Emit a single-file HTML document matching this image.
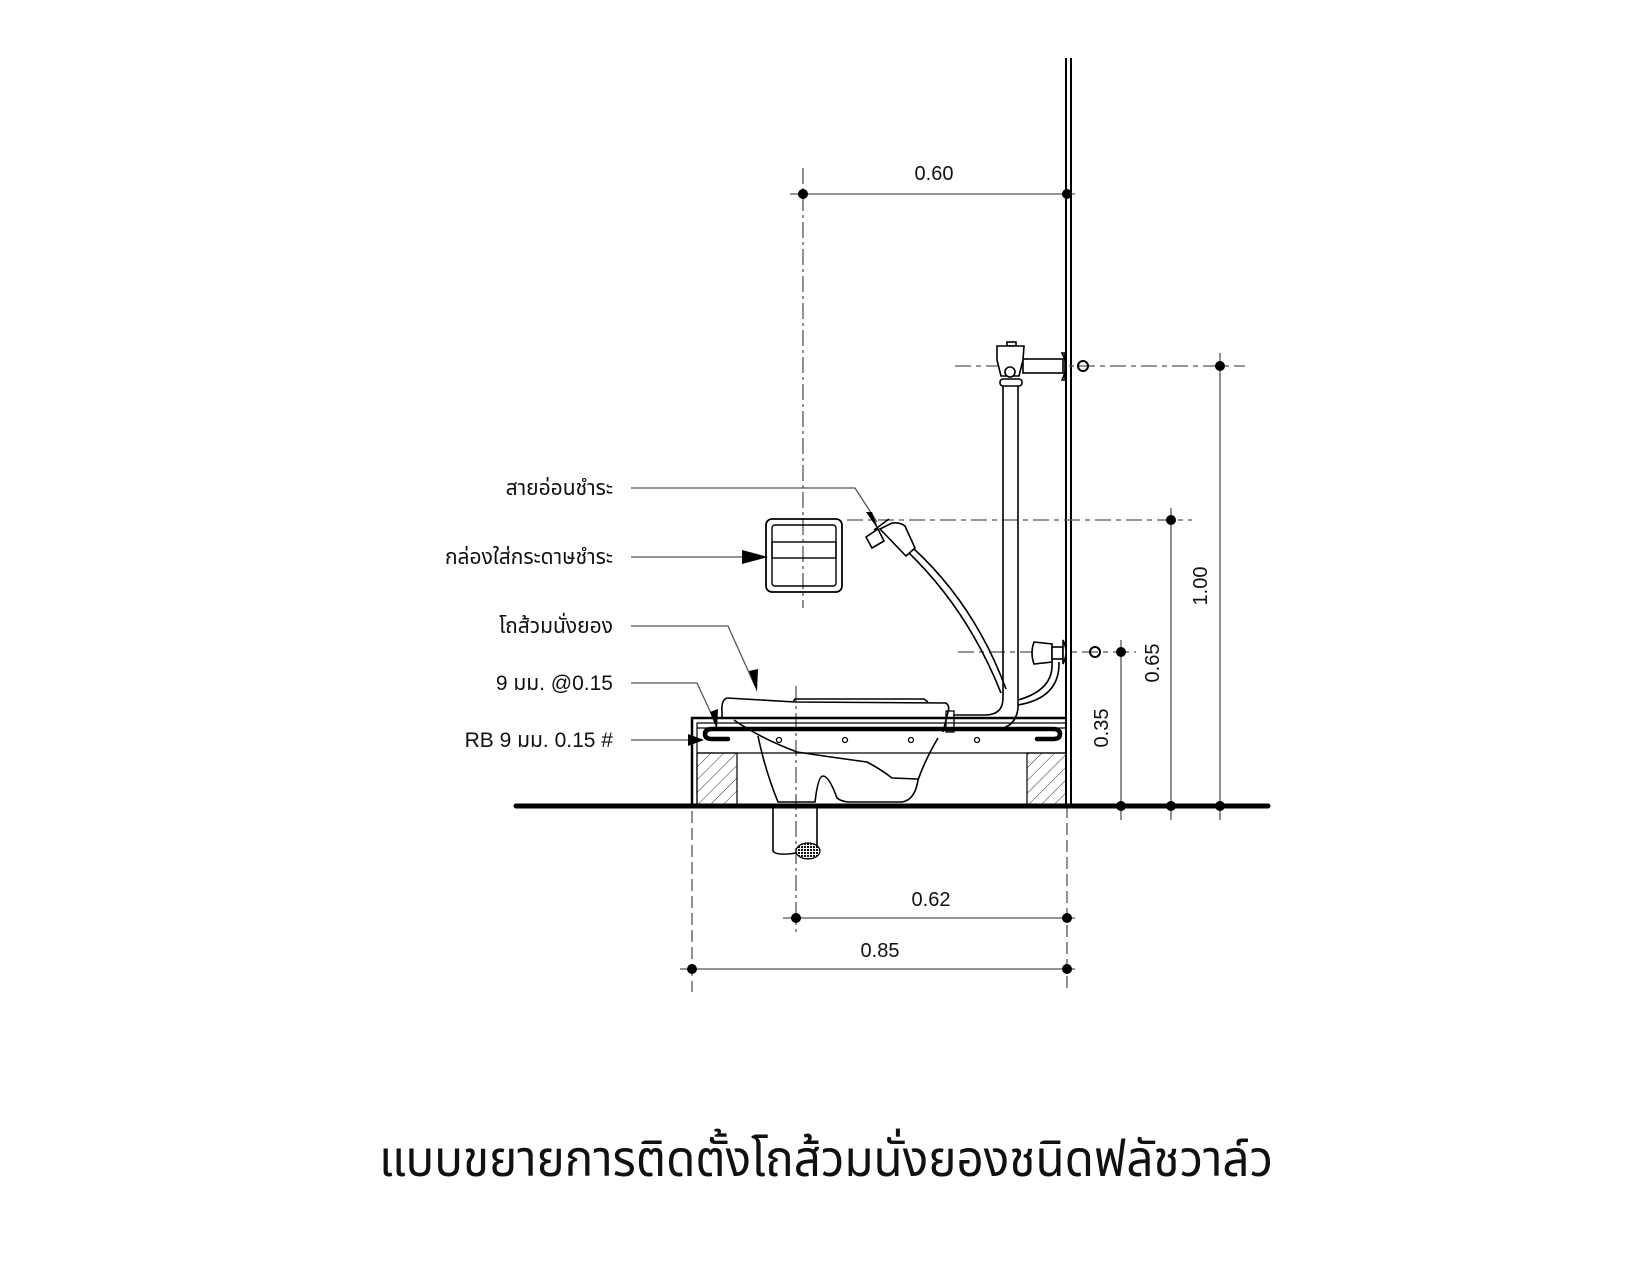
<!DOCTYPE html>
<html><head><meta charset="utf-8"><style>
html,body{margin:0;padding:0;background:#fff}
svg{display:block}
text{font-family:"Liberation Sans","Noto Sans Thai","Loma","Garuda","DejaVu Sans",sans-serif;fill:#111}
</style></head><body>
<svg width="1650" height="1275" viewBox="0 0 1650 1275" xmlns="http://www.w3.org/2000/svg">
<defs>
<pattern id="hat" width="9" height="9" patternUnits="userSpaceOnUse" patternTransform="rotate(45)">
<line x1="0" y1="0" x2="0" y2="9" stroke="#333" stroke-width="1"/>
</pattern>
<pattern id="dots" width="3" height="3" patternUnits="userSpaceOnUse">
<rect width="3" height="3" fill="#fff"/><rect width="2" height="2" fill="#111"/>
</pattern>
</defs>

<!-- wall -->
<line x1="1066" y1="58" x2="1066" y2="806" stroke="#000" stroke-width="2"/>
<line x1="1071" y1="58" x2="1071" y2="806" stroke="#000" stroke-width="2"/>

<!-- centerlines / extension lines -->
<g stroke="#555" stroke-width="1.3" fill="none">
<line x1="803" y1="168" x2="803" y2="608" stroke-dasharray="16 4 3 4"/>
<line x1="955" y1="366" x2="1245" y2="366" stroke-dasharray="16 5 5 5"/>
<line x1="847" y1="520" x2="1192" y2="520" stroke-dasharray="16 5 5 5"/>
<line x1="958" y1="652" x2="1136" y2="652" stroke-dasharray="16 5 5 5"/>
<line x1="692" y1="760" x2="692" y2="992" stroke-dasharray="12 5"/>
<line x1="1067" y1="806" x2="1067" y2="992" stroke-dasharray="12 5"/>
<line x1="796" y1="686" x2="796" y2="932" stroke-dasharray="16 4 3 4"/>
<!-- dimension lines -->
<line x1="790" y1="194" x2="1075" y2="194"/>
<line x1="783" y1="918" x2="1075" y2="918"/>
<line x1="680" y1="969" x2="1075" y2="969"/>
<line x1="1121" y1="640" x2="1121" y2="820"/>
<line x1="1171" y1="508" x2="1171" y2="820"/>
<line x1="1220" y1="353" x2="1220" y2="820"/>
<!-- leaders -->
<polyline points="631,488 855,488 877,522"/>
<line x1="631" y1="557" x2="745" y2="557"/>
<polyline points="631,626 728,626 755,686"/>
<polyline points="631,683 697,683 716,724"/>
<line x1="631" y1="740" x2="690" y2="740"/>
</g>
<g fill="#000">
<circle cx="803" cy="194" r="5"/><circle cx="1067" cy="194" r="5"/>
<circle cx="796" cy="918" r="5"/><circle cx="1067" cy="918" r="5"/>
<circle cx="692" cy="969" r="5"/><circle cx="1067" cy="969" r="5"/>
<circle cx="1121" cy="652" r="5"/><circle cx="1121" cy="806" r="5"/>
<circle cx="1171" cy="520" r="5"/><circle cx="1171" cy="806" r="5"/>
<circle cx="1220" cy="366" r="5"/><circle cx="1220" cy="806" r="5"/>
<!-- arrowheads -->
<polygon points="866,512 879,531 872,512"/>
<polygon points="742,550 768,557 742,564"/>
<polygon points="749,671 757,692 758,669"/>
<polygon points="710,712 717,730 718,709"/>
<polygon points="688,734 704,740 688,746"/>
</g>
<g fill="none" stroke="#000" stroke-width="2">
<circle cx="1083" cy="366" r="5"/>
<circle cx="1095" cy="652" r="5"/>
</g>

<!-- paper box -->
<rect x="766" y="519" width="76" height="73" rx="6" fill="none" stroke="#000" stroke-width="1.8"/>
<rect x="772" y="525" width="64" height="61" rx="3" fill="none" stroke="#000" stroke-width="1.4"/>
<rect x="772" y="542" width="64" height="16" fill="none" stroke="#000" stroke-width="1.4"/>

<!-- flush valve -->
<g fill="#fff" stroke="#000" stroke-width="1.6">
<rect x="1023" y="359" width="40" height="14"/>
<path d="M1062,353 Q1069,366 1062,380 L1065,380 L1065,353Z"/>
<rect x="1007" y="342" width="9" height="4"/>
<path d="M997,346 L1024,346 L1023,360 L1019,376 L1001,376 L997,360Z"/>
<circle cx="1010" cy="372" r="5"/>
<rect x="1000" y="379" width="22" height="7" rx="3"/>
<line x1="1003" y1="386" x2="1003" y2="698" fill="none"/>
<line x1="1018" y1="386" x2="1018" y2="708" fill="none"/>
<path d="M1003,698 Q1003,715 985,715 L953,715" fill="none"/>
<path d="M1018,708 Q1016,730 990,730 L953,730" fill="none"/>
<!-- lower valve -->
<path d="M1034,642 L1052,644 L1052,662 L1034,664 Q1030,653 1034,642Z"/>
<rect x="1052" y="647" width="11" height="12"/>
<path d="M1063,640 Q1069,652 1063,664Z"/>
<path d="M1052,662 Q1054,690 1018,700" fill="none"/>
<path d="M1059,662 Q1060,698 1018,705" fill="none"/>
<!-- hose -->
<path d="M908,552 Q968,610 1001,693" fill="none"/>
<path d="M913,548 Q975,605 1006,689" fill="none"/>
<path d="M880,529 L892,523 Q900,522 905,526 L915,548 L906,556 Z"/>
<path d="M866,537 L878,529 L884,541 L872,548Z"/>
<line x1="874" y1="530" x2="889" y2="519"/>
</g>

<!-- platform -->
<g fill="none" stroke="#000">
<polyline points="692,806 692,718 1066,718" stroke-width="2.5"/>
<polyline points="697,806 697,723 1066,723" stroke-width="1.2"/>
<line x1="697" y1="728" x2="1066" y2="728" stroke-width="1.2"/>
<line x1="697" y1="753" x2="1066" y2="753" stroke-width="1.2"/>
</g>
<rect x="697" y="753" width="40" height="53" fill="url(#hat)" stroke="#000" stroke-width="1.2"/>
<rect x="1027" y="753" width="39" height="53" fill="url(#hat)" stroke="#000" stroke-width="1.2"/>

<!-- toilet -->
<g fill="none" stroke="#000" stroke-width="1.6">
<path d="M727,698 L795,702 L946,703 Q950,706 948,712 L943,732"/>
<path d="M727,698 Q721,700 722,712 L722,718"/>
<path d="M793,702 L795,699 L924,699 L928,702"/>
<rect x="946" y="711" width="8" height="21" stroke-width="1.3"/>
<path d="M758,736 Q765,770 778,802 L815,802 Q818,776 823,776 Q829,776 837,798 Q842,802 850,802 L902,802 Q915,800 918,780 Q925,760 938,738"/>
<path d="M734,720 Q760,738 797,752 Q830,757 867,762 Q882,770 892,778 L918,779"/>
</g>
<!-- rebar -->
<g fill="none" stroke="#000">
<path d="M728,739 L712,739 Q705,739 705,734 Q705,729 712,729 L1053,729 Q1060,729 1060,734 Q1060,739 1053,739 L1037,739" stroke-width="4.5" stroke-linecap="round"/>
<g stroke-width="1.3" fill="#fff"><circle cx="779" cy="740" r="2.5"/><circle cx="845" cy="740" r="2.5"/><circle cx="911" cy="740" r="2.5"/><circle cx="977" cy="740" r="2.5"/></g>
</g>

<!-- floor -->
<line x1="516" y1="806" x2="1268" y2="806" stroke="#000" stroke-width="5" stroke-linecap="round"/>

<!-- drain pipe -->
<g fill="none" stroke="#000" stroke-width="1.6">
<path d="M773,808 L773,851 Q776,856 796,853"/>
<line x1="817" y1="808" x2="817" y2="851"/>
</g>
<ellipse cx="808" cy="851" rx="12" ry="8" fill="url(#dots)" stroke="#000" stroke-width="1.2"/>

<!-- dimension text -->
<g font-size="20">
<text x="934" y="180" text-anchor="middle">0.60</text>
<text x="931" y="906" text-anchor="middle">0.62</text>
<text x="880" y="957" text-anchor="middle">0.85</text>
<text transform="translate(1108,728) rotate(-90)" text-anchor="middle">0.35</text>
<text transform="translate(1159,663) rotate(-90)" text-anchor="middle">0.65</text>
<text transform="translate(1207,586) rotate(-90)" text-anchor="middle">1.00</text>
</g>
<g font-size="21" text-anchor="end">
<text x="613" y="495">สายอ่อนชำระ</text>
<text x="613" y="564">กล่องใส่กระดาษชำระ</text>
<text x="613" y="633">โถส้วมนั่งยอง</text>
<text x="613" y="690">9 มม. @0.15</text>
<text x="613" y="747">RB 9 มม. 0.15 #</text>
</g>
<text x="379" y="1176" font-size="50" textLength="894" lengthAdjust="spacingAndGlyphs">แบบขยายการติดตั้งโถส้วมนั่งยองชนิดฟลัชวาล์ว</text>
</svg>
</body></html>
